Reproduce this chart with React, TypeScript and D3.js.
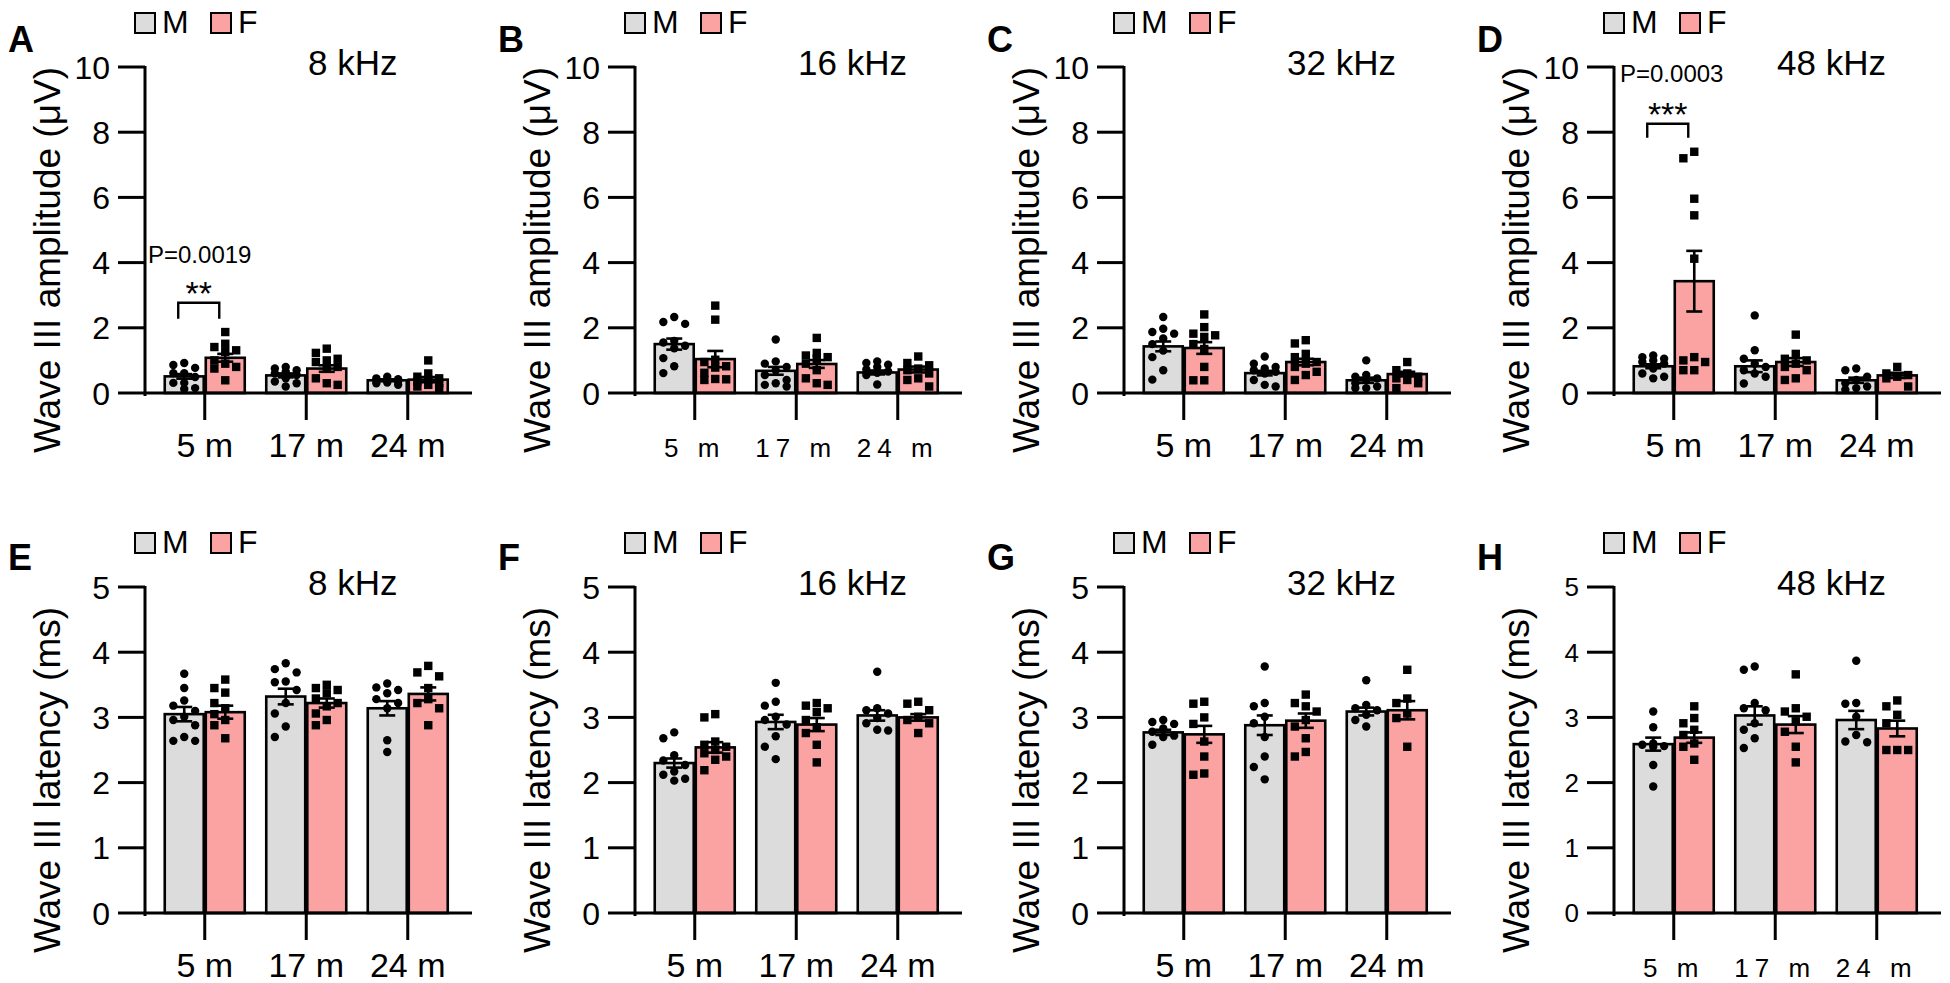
import React from "react";
import * as d3 from "d3";

// ---------- shared categories / ticks ----------
const ages = ["5 m", "17 m", "24 m"];
const sexes = ["M", "F"];
const ampTicks = [0, 2, 4, 6, 8, 10];
const latTicks = [0, 1, 2, 3, 4, 5];

// ---------- A: amplitude 8 kHz ----------
const A_meanM = [0.51, 0.54, 0.39];
const A_meanF = [1.08, 0.75, 0.41];
const A_semM = [0.07, 0.06, 0.03];
const A_semF = [0.12, 0.1, 0.08];
const A_ptsM = [[0.86, 0.77, 0.92, 0.61, 0.61, 0.49, 0.31, 0.31, 0.15, 0.12], [0.8, 0.75, 0.7, 0.65, 0.6, 0.55, 0.45, 0.35, 0.3, 0.2], [0.5, 0.45, 0.42, 0.4, 0.38, 0.35, 0.32, 0.3, 0.25]];
const A_ptsF = [[1.87, 1.51, 1.41, 1.31, 1.26, 1.0, 0.9, 0.8, 0.75, 0.39], [1.36, 1.23, 1.05, 1.0, 0.95, 0.8, 0.75, 0.45, 0.3, 0.25], [1.0, 0.6, 0.5, 0.45, 0.4, 0.35, 0.3, 0.25, 0.2, 0.15]];

// ---------- B: amplitude 16 kHz ----------
const B_meanM = [1.5, 0.68, 0.63];
const B_meanF = [1.04, 0.89, 0.72];
const B_semM = [0.17, 0.12, 0.06];
const B_semF = [0.25, 0.12, 0.09];
const B_ptsM = [[2.33, 2.18, 2.12, 1.6, 1.55, 1.45, 1.37, 1.07, 0.82, 0.61], [1.64, 0.97, 0.9, 0.8, 0.7, 0.55, 0.4, 0.3, 0.25, 0.2], [0.97, 0.92, 0.87, 0.8, 0.72, 0.66, 0.62, 0.55, 0.26]];
const B_ptsF = [[2.68, 2.25, 1.02, 0.95, 0.82, 0.78, 0.62, 0.43, 0.42, 0.4], [1.69, 1.23, 1.15, 1.1, 1.05, 0.9, 0.7, 0.45, 0.3, 0.25], [1.12, 0.92, 0.85, 0.75, 0.7, 0.6, 0.45, 0.4, 0.2]];

// ---------- C: amplitude 32 kHz ----------
const C_meanM = [1.43, 0.61, 0.39];
const C_meanF = [1.38, 0.95, 0.58];
const C_semM = [0.15, 0.07, 0.08];
const C_semF = [0.18, 0.1, 0.07];
const C_ptsM = [[2.33, 1.97, 1.87, 1.82, 1.67, 1.5, 1.3, 1.1, 0.7, 0.41], [1.12, 0.9, 0.8, 0.75, 0.7, 0.65, 0.6, 0.4, 0.25, 0.2], [1.0, 0.55, 0.5, 0.45, 0.4, 0.3, 0.2, 0.15, 0.15]];
const C_ptsF = [[2.41, 2.02, 1.82, 1.77, 1.72, 1.5, 1.35, 0.8, 0.39, 0.39], [1.62, 1.52, 1.2, 1.1, 0.95, 0.9, 0.8, 0.65, 0.55, 0.4], [0.95, 0.7, 0.6, 0.5, 0.45, 0.4, 0.3, 0.15]];

// ---------- D: amplitude 48 kHz ----------
const D_meanM = [0.82, 0.82, 0.39];
const D_meanF = [3.43, 0.95, 0.54];
const D_semM = [0.06, 0.18, 0.08];
const D_semF = [0.93, 0.12, 0.08];
const D_ptsM = [[1.15, 1.1, 1.05, 1.0, 0.95, 0.9, 0.75, 0.6, 0.5, 0.45], [2.38, 1.31, 1.05, 0.9, 0.8, 0.7, 0.6, 0.5, 0.29], [0.75, 0.7, 0.5, 0.4, 0.3, 0.2, 0.15, 0.1]];
const D_ptsF = [[7.4, 7.2, 5.96, 5.45, 4.12, 1.1, 1.0, 0.95, 0.7, 0.7], [1.79, 1.2, 1.05, 1.0, 0.9, 0.8, 0.7, 0.45, 0.4], [0.8, 0.6, 0.55, 0.5, 0.45, 0.2]];

// ---------- E: latency 8 kHz ----------
const E_meanM = [3.05, 3.32, 3.14];
const E_meanF = [3.08, 3.22, 3.36];
const E_semM = [0.11, 0.12, 0.11];
const E_semF = [0.1, 0.07, 0.1];
const E_ptsM = [[3.67, 3.45, 3.26, 3.18, 3.1, 3.01, 2.96, 2.88, 2.7, 2.64, 2.64], [3.83, 3.74, 3.69, 3.55, 3.54, 3.42, 3.22, 3.06, 2.86, 2.7], [3.52, 3.46, 3.42, 3.37, 3.28, 3.22, 3.14, 2.65, 2.47]];
const E_ptsF = [[3.58, 3.45, 3.38, 3.22, 3.14, 3.05, 2.96, 2.88, 2.68], [3.5, 3.45, 3.42, 3.37, 3.29, 3.22, 3.17, 3.06, 2.96, 2.88], [3.79, 3.69, 3.63, 3.45, 3.28, 3.22, 3.14, 2.88]];

// ---------- F: latency 16 kHz ----------
const F_meanM = [2.3, 2.93, 3.03];
const F_meanF = [2.54, 2.89, 3.0];
const F_semM = [0.07, 0.11, 0.08];
const F_semF = [0.08, 0.1, 0.05];
const F_ptsM = [[2.77, 2.68, 2.42, 2.34, 2.27, 2.17, 2.12, 2.06, 2.03], [3.53, 3.24, 3.18, 3.01, 2.96, 2.89, 2.71, 2.55, 2.36], [3.7, 3.14, 3.11, 3.06, 2.99, 2.91, 2.81, 2.8]];
const F_ptsF = [[3.05, 3.0, 2.63, 2.58, 2.55, 2.5, 2.45, 2.4, 2.35, 2.19], [3.22, 3.18, 3.14, 3.08, 2.96, 2.85, 2.76, 2.58, 2.31], [3.24, 3.21, 3.11, 3.01, 2.96, 2.91, 2.76]];

// ---------- G: latency 32 kHz ----------
const G_meanM = [2.77, 2.88, 3.09];
const G_meanF = [2.74, 2.95, 3.11];
const G_semM = [0.04, 0.15, 0.06];
const G_semF = [0.13, 0.11, 0.14];
const G_ptsM = [[2.96, 2.93, 2.9, 2.83, 2.78, 2.72, 2.7, 2.58], [3.78, 3.22, 3.17, 3.01, 2.91, 2.7, 2.4, 2.24, 2.05], [3.57, 3.19, 3.14, 3.11, 3.04, 2.96, 2.86]];
const G_ptsF = [[3.24, 3.21, 3.0, 2.9, 2.63, 2.4, 2.14, 2.12], [3.35, 3.22, 3.17, 3.09, 2.96, 2.86, 2.68, 2.47, 2.4], [3.73, 3.29, 3.22, 3.06, 2.99, 2.55]];

// ---------- H: latency 48 kHz ----------
const H_meanM = [2.59, 3.03, 2.96];
const H_meanF = [2.69, 2.89, 2.83];
const H_semM = [0.1, 0.14, 0.14];
const H_semF = [0.08, 0.13, 0.12];
const H_ptsM = [[3.09, 2.85, 2.6, 2.58, 2.56, 2.55, 2.27, 1.94], [3.78, 3.73, 3.22, 3.14, 3.11, 2.91, 2.81, 2.68, 2.53], [3.87, 3.22, 3.21, 3.01, 2.73, 2.63, 2.62]];
const H_ptsF = [[3.17, 2.99, 2.91, 2.81, 2.73, 2.6, 2.55, 2.35], [3.66, 3.14, 3.09, 3.01, 2.94, 2.78, 2.55, 2.31], [3.26, 3.17, 3.04, 2.91, 2.5, 2.5, 2.5]];

const letters = ["A", "B", "C", "D", "E", "F", "G", "H"];
const freqs = ["8 kHz", "16 kHz", "32 kHz", "48 kHz"];
const ampTitle = "Wave III amplitude (\u03bcV)";
const latTitle = "Wave III latency (ms)";

// significance annotations (panel A and D)
const sigA = { group: 0, top: 2.77, leg: 2.28, stars: "**", p: "P=0.0019", pY: 4.0, pDx: 3 };
const sigD = { group: 0, top: 8.26, leg: 7.83, stars: "***", p: "P=0.0003", pY: 9.54, pDx: 6 };

const panelData = [
  { meanM: A_meanM, meanF: A_meanF, semM: A_semM, semF: A_semF, ptsM: A_ptsM, ptsF: A_ptsF, sig: sigA },
  { meanM: B_meanM, meanF: B_meanF, semM: B_semM, semF: B_semF, ptsM: B_ptsM, ptsF: B_ptsF, sig: null },
  { meanM: C_meanM, meanF: C_meanF, semM: C_semM, semF: C_semF, ptsM: C_ptsM, ptsF: C_ptsF, sig: null },
  { meanM: D_meanM, meanF: D_meanF, semM: D_semM, semF: D_semF, ptsM: D_ptsM, ptsF: D_ptsF, sig: sigD },
  { meanM: E_meanM, meanF: E_meanF, semM: E_semM, semF: E_semF, ptsM: E_ptsM, ptsF: E_ptsF, sig: null },
  { meanM: F_meanM, meanF: F_meanF, semM: F_semM, semF: F_semF, ptsM: F_ptsM, ptsF: F_ptsF, sig: null },
  { meanM: G_meanM, meanF: G_meanF, semM: G_semM, semF: G_semF, ptsM: G_ptsM, ptsF: G_ptsF, sig: null },
  { meanM: H_meanM, meanF: H_meanF, semM: H_semM, semF: H_semF, ptsM: H_ptsM, ptsF: H_ptsF, sig: null },
];

const FONT = "'Liberation Sans', Arial, Helvetica, sans-serif";
const COLORS: Record<string, string> = { M: "#dcdcdc", F: "#fba3a3" };
const AXIS_X = [145, 635, 1124, 1614];
const ROW_Y = [
  [67, 393],
  [587, 913],
];

function swarm(vals: number[], y: (v: number) => number, r: number, maxOff: number) {
  const pts = vals.map((v) => ({ y: y(v), x: 0 }));
  const order = pts.map((_, i) => i).sort((a, b) => pts[a].y - pts[b].y);
  const placed: { x: number; y: number }[] = [];
  const step = 2 * r + 2.5;
  const cands: number[] = [0];
  for (let k = 1; k * step <= maxOff + 0.01; k++) {
    cands.push(-k * step, k * step);
  }
  const minD = 2 * r + 2.5;
  for (const i of order) {
    const p = pts[i];
    let best = 0;
    let bestScore = -Infinity;
    for (const c of cands) {
      let md = Infinity;
      for (const q of placed) {
        const d = Math.hypot(q.x - c, q.y - p.y);
        if (d < md) md = d;
      }
      if (md >= minD) {
        best = c;
        bestScore = Infinity;
        break;
      }
      if (md > bestScore) {
        bestScore = md;
        best = c;
      }
    }
    p.x = best;
    placed.push({ x: best, y: p.y });
  }
  return pts;
}

function Panel({ idx }: { idx: number }) {
  const col = idx % 4;
  const row = Math.floor(idx / 4);
  const ax = AXIS_X[col];
  const [yTop, yZero] = ROW_Y[row];
  const isAmp = row === 0;
  const ticks = isAmp ? ampTicks : latTicks;
  const yMax = isAmp ? 10 : 5;
  const d = panelData[idx];
  const y = d3.scaleLinear().domain([0, yMax]).range([yZero, yTop]);
  const x = d3.scaleBand().domain(ages).range([ax + 9, ax + 313.5]).paddingInner(0).paddingOuter(0);
  const xs = d3.scaleBand().domain(sexes).range([-40, 40]).paddingInner(0.05);
  const spaced = idx === 1 || idx === 7;
  const tickFont = idx === 7 ? 26 : 32;
  const r = 4.2;

  const groups = ages.map((age, gi) => {
    const cx = (x(age) as number) + x.bandwidth() / 2;
    return sexes.map((s) => {
      const mean = s === "M" ? d.meanM[gi] : d.meanF[gi];
      const sem = s === "M" ? d.semM[gi] : d.semF[gi];
      const pts = s === "M" ? d.ptsM[gi] : d.ptsF[gi];
      const x0 = cx + (xs(s) as number);
      const bw = xs.bandwidth();
      const bc = x0 + bw / 2;
      const sw = swarm(pts, y, r, 19);
      return (
        <g key={age + s}>
          <rect x={x0} y={y(mean)} width={bw} height={yZero - y(mean)} fill={COLORS[s]} stroke="#000" strokeWidth={2.6} />
          {sw.map((p, pi) =>
            s === "M" ? (
              <circle key={pi} cx={bc + p.x} cy={p.y} r={r} fill="#000" />
            ) : (
              <rect key={pi} x={bc + p.x - r} y={p.y - r} width={2 * r} height={2 * r} fill="#000" />
            )
          )}
          <g stroke="#000" strokeWidth={2.6}>
            <line x1={bc} x2={bc} y1={y(mean - sem)} y2={y(mean + sem)} />
            <line x1={bc - 8} x2={bc + 8} y1={y(mean + sem)} y2={y(mean + sem)} />
            <line x1={bc - 8} x2={bc + 8} y1={y(mean - sem)} y2={y(mean - sem)} />
          </g>
        </g>
      );
    });
  });

  let sig = null;
  if (d.sig) {
    const s = d.sig;
    const cx = (x(ages[s.group]) as number) + x.bandwidth() / 2;
    const xm = cx + (xs("M") as number) + xs.bandwidth() / 2 - 6;
    const xf = cx + (xs("F") as number) + xs.bandwidth() / 2 - 6;
    sig = (
      <g>
        <path d={`M${xm},${y(s.leg)}V${y(s.top)}H${xf}V${y(s.leg)}`} fill="none" stroke="#000" strokeWidth={2.4} />
        <text x={(xm + xf) / 2} y={y(s.top) + 2} textAnchor="middle" fontSize={34} fontFamily={FONT}>
          {s.stars}
        </text>
        <text x={ax + s.pDx} y={y(s.pY)} fontSize={24} fontFamily={FONT}>
          {s.p}
        </text>
      </g>
    );
  }

  return (
    <g>
      {/* panel letter */}
      <text x={ax - 137} y={yTop - (row === 0 ? 15 : 17)} fontSize={36} fontWeight="bold" fontFamily={FONT}>
        {letters[idx]}
      </text>
      {/* legend */}
      <rect x={ax - 10} y={yTop - 54} width={20} height={20} fill={COLORS.M} stroke="#000" strokeWidth={2} />
      <text x={ax + 17} y={yTop - 34} fontSize={32} fontFamily={FONT}>M</text>
      <rect x={ax + 66} y={yTop - 54} width={20} height={20} fill={COLORS.F} stroke="#000" strokeWidth={2} />
      <text x={ax + 93} y={yTop - 34} fontSize={32} fontFamily={FONT}>F</text>
      {/* frequency */}
      <text x={ax + 163} y={yTop + 8} fontSize={35} fontFamily={FONT}>
        {freqs[col]}
      </text>
      {/* y title */}
      <text
        transform={`translate(${ax - 85},${(yTop + yZero) / 2 + 30}) rotate(-90)`}
        textAnchor="middle"
        fontSize={37}
        fontFamily={FONT}
      >
        {isAmp ? ampTitle : latTitle}
      </text>
      {/* bars */}
      {groups}
      {sig}
      {/* axes */}
      <g stroke="#000" strokeWidth={3} fill="none">
        <line x1={ax} x2={ax} y1={yTop - 1} y2={yZero + 3} />
        {ticks.map((t) => (
          <line key={t} x1={ax - 27} x2={ax} y1={y(t)} y2={y(t)} />
        ))}
        <line x1={ax} x2={ax + 327} y1={yZero} y2={yZero} />
        {ages.map((a) => {
          const cx = (x(a) as number) + x.bandwidth() / 2;
          return <line key={a} x1={cx} x2={cx} y1={yZero} y2={yZero + 27} />;
        })}
      </g>
      {ticks.map((t) => (
        <text
          key={t}
          x={ax - 35}
          y={y(t)}
          dy="0.36em"
          textAnchor="end"
          fontSize={tickFont}
          fontFamily={FONT}
        >
          {t}
        </text>
      ))}
      {ages.map((a) => {
        const cx = (x(a) as number) + x.bandwidth() / 2;
        return (
          <text
            key={a}
            x={cx}
            y={yZero + 64}
            textAnchor="middle"
            fontSize={spaced ? 26 : 34}
            letterSpacing={spaced ? 6 : 0}
            fontFamily={FONT}
          >
            {a}
          </text>
        );
      })}
    </g>
  );
}

export default function App() {
  return (
    <svg
      width={1950}
      height={983}
      viewBox="0 0 1950 983"
      style={{ position: "absolute", left: 0, top: 0, background: "#fff" }}
    >
      <rect width={1950} height={983} fill="#fff" />
      {panelData.map((_, i) => (
        <Panel key={i} idx={i} />
      ))}
    </svg>
  );
}
